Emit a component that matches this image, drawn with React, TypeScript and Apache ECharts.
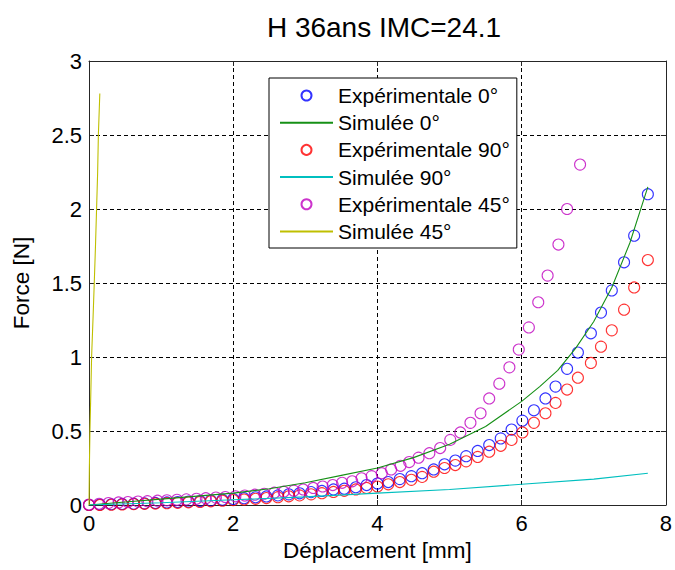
import React, { useEffect, useRef } from "react";
import * as echarts from "echarts";

const titleText = "H 36ans IMC=24.1";
const xName = "Déplacement [mm]";
const yName = "Force [N]";

// Expérimentale 0° and 90° share the same displacement samples
const expX = [
  0, 0.15, 0.31, 0.46, 0.62, 0.77, 0.92, 1.08, 1.23, 1.38, 1.54, 1.69, 1.85, 2.0, 2.15, 2.31, 2.46, 2.62,
  2.77, 2.92, 3.08, 3.23, 3.39, 3.54, 3.7, 3.85, 4.0, 4.15, 4.31, 4.47, 4.62, 4.78, 4.93, 5.08, 5.23, 5.39,
  5.55, 5.71, 5.86, 6.01, 6.17, 6.33, 6.47, 6.63, 6.78, 6.96, 7.1, 7.25, 7.42, 7.56, 7.75,
];
const exp0Y = [
  0.0, 0.003, 0.005, 0.007, 0.009, 0.011, 0.014, 0.017, 0.02, 0.023, 0.027, 0.031, 0.036, 0.041, 0.046, 0.052,
  0.058, 0.065, 0.072, 0.079, 0.087, 0.095, 0.105, 0.11, 0.12, 0.135, 0.145, 0.155, 0.175, 0.195, 0.215, 0.24,
  0.275, 0.3, 0.33, 0.365, 0.405, 0.45, 0.51, 0.57, 0.64, 0.72, 0.8, 0.92, 1.03, 1.16, 1.3, 1.45, 1.64, 1.82, 2.1,
];
const exp90Y = [
  0.0, 0.0, 0.002, 0.004, 0.006, 0.008, 0.01, 0.012, 0.015, 0.018, 0.021, 0.025, 0.029, 0.033, 0.037, 0.042,
  0.047, 0.053, 0.059, 0.065, 0.072, 0.08, 0.088, 0.096, 0.105, 0.115, 0.125, 0.14, 0.155, 0.17, 0.19, 0.225,
  0.25, 0.27, 0.295, 0.325, 0.36, 0.4, 0.44, 0.49, 0.555, 0.62, 0.69, 0.78, 0.86, 0.96, 1.07, 1.18, 1.32, 1.47, 1.655,
];
const exp45X = [
  0, 0.14, 0.27, 0.41, 0.54, 0.68, 0.81, 0.95, 1.08, 1.22, 1.35, 1.49, 1.62, 1.76, 1.89, 2.03, 2.16, 2.3, 2.43,
  2.57, 2.7, 2.84, 2.97, 3.11, 3.24, 3.38, 3.51, 3.65, 3.78, 3.92, 4.06, 4.19, 4.32, 4.44, 4.57, 4.72, 4.87,
  5.01, 5.15, 5.29, 5.43, 5.55, 5.69, 5.83, 5.96, 6.1, 6.23, 6.36, 6.51, 6.63, 6.81,
];
const exp45Y = [
  0.003, 0.008, 0.013, 0.017, 0.02, 0.023, 0.026, 0.029, 0.032, 0.035, 0.038, 0.042, 0.046, 0.05, 0.054, 0.059,
  0.064, 0.07, 0.076, 0.083, 0.09, 0.097, 0.105, 0.115, 0.125, 0.135, 0.15, 0.16, 0.18, 0.195, 0.215, 0.24,
  0.265, 0.29, 0.32, 0.35, 0.385, 0.44, 0.49, 0.555, 0.62, 0.72, 0.82, 0.93, 1.05, 1.2, 1.37, 1.55, 1.76, 2.0, 2.3,
];
const sim0X = [0, 0.5, 1, 1.5, 2, 2.5, 3, 3.5, 4, 4.5, 5, 5.5, 6, 6.25, 6.5, 6.75, 7, 7.25, 7.5, 7.75];
const sim0Y = [0, 0.02, 0.04, 0.06, 0.08, 0.11, 0.15, 0.2, 0.25, 0.32, 0.41, 0.53, 0.7, 0.8, 0.91, 1.06, 1.24, 1.47, 1.77, 2.15];
const sim90X = [0, 1, 2, 3, 4, 5, 6, 7, 7.75];
const sim90Y = [0, 0.015, 0.035, 0.055, 0.08, 0.105, 0.14, 0.175, 0.215];
const sim45X = [0, 0.005, 0.013, 0.025, 0.036, 0.055, 0.073, 0.09, 0.105, 0.12, 0.13, 0.15];
const sim45Y = [0, 0.25, 0.5, 0.75, 1.0, 1.25, 1.5, 1.75, 2.0, 2.25, 2.5, 2.78];

const xTicks = { min: 0, max: 8, interval: 2 };
const yTicks = { min: 0, max: 3, interval: 0.5 };

const legendNames = [
  "Expérimentale 0°",
  "Simulée 0°",
  "Expérimentale 90°",
  "Simulée 90°",
  "Expérimentale 45°",
  "Simulée 45°",
];

const zip = (xs: number[], ys: number[]) => xs.map((x, i) => [x, ys[i]]);

export default function App() {
  const ref = useRef<HTMLDivElement>(null);
  useEffect(() => {
    const chart = echarts.init(ref.current!, null, { renderer: "svg" });
    const font = "'Liberation Sans', Arial, sans-serif";
    const axisColor = "#262626";
    const baseAxis = {
      type: "value" as const,
      axisLine: { show: true, onZero: false, lineStyle: { color: axisColor, width: 1 } },
      axisTick: { show: true, inside: true, length: 5, lineStyle: { color: axisColor } },
    };
    const scatter = (name: string, xs: number[], ys: number[], color: string) => ({
      name,
      type: "scatter",
      data: zip(xs, ys),
      symbol: "circle",
      symbolSize: 11,
      itemStyle: { color: "rgba(0,0,0,0)", borderColor: color, borderWidth: 1.1 },
    });
    const line = (name: string, xs: number[], ys: number[], color: string) => ({
      name,
      type: "line",
      data: zip(xs, ys),
      symbol: "none",
      lineStyle: { color, width: 1.1 },
      itemStyle: { color },
    });
    chart.setOption({
      animation: false,
      backgroundColor: "#fff",
      title: {
        text: titleText,
        left: 379,
        top: 8,
        textAlign: "center",
        textStyle: { fontSize: 28, fontWeight: "normal", color: "#000", fontFamily: font },
      },
      grid: { left: 89, right: 8, top: 61, bottom: 65, containLabel: false },
      legend: {
        orient: "vertical",
        left: 269,
        top: 78,
        itemWidth: 53,
        itemHeight: 10,
        itemGap: 6.2,
        padding: [7, 7, 6, 10],
        borderColor: "#000",
        borderWidth: 1,
        backgroundColor: "#fff",
        textStyle: { fontSize: 21, fontFamily: font, color: "#000", lineHeight: 21 },
        data: legendNames.map((n) =>
          n.startsWith("Simulée") ? { name: n, itemStyle: { opacity: 0 } } : { name: n }
        ),
      },
      xAxis: [
        {
          ...baseAxis,
          ...xTicks,
          position: "bottom",
          axisLabel: { color: "#000", fontSize: 22, fontFamily: font, margin: 7 },
          splitLine: { show: true, lineStyle: { color: "#000", type: [4, 3], width: 1 } },
          name: xName,
          nameLocation: "middle",
          nameGap: 34,
          nameTextStyle: { fontSize: 22.5, color: "#000", fontFamily: font },
        },
        {
          ...baseAxis,
          ...xTicks,
          position: "top",
          axisLabel: { show: false },
          splitLine: { show: false },
        },
      ],
      yAxis: [
        {
          ...baseAxis,
          ...yTicks,
          position: "left",
          axisLabel: { color: "#000", fontSize: 22, fontFamily: font, margin: 7 },
          splitLine: { show: true, lineStyle: { color: "#000", type: [4, 3], width: 1 } },
          name: yName,
          nameLocation: "middle",
          nameGap: 56,
          nameRotate: 90,
          nameTextStyle: { fontSize: 22.5, color: "#000", fontFamily: font },
        },
        {
          ...baseAxis,
          ...yTicks,
          position: "right",
          axisLabel: { show: false },
          splitLine: { show: false },
        },
      ],
      series: [
        scatter(legendNames[0], expX, exp0Y, "#0000ff"),
        line(legendNames[1], sim0X, sim0Y, "#169016"),
        scatter(legendNames[2], expX, exp90Y, "#ff0000"),
        line(legendNames[3], sim90X, sim90Y, "#00bfbf"),
        scatter(legendNames[4], exp45X, exp45Y, "#bf00bf"),
        line(legendNames[5], sim45X, sim45Y, "#bfbf00"),
      ],
    });
    return () => chart.dispose();
  }, []);
  return (
    <div
      ref={ref}
      style={{ position: "fixed", left: 0, top: 0, width: 675, height: 570, background: "#fff" }}
    />
  );
}
